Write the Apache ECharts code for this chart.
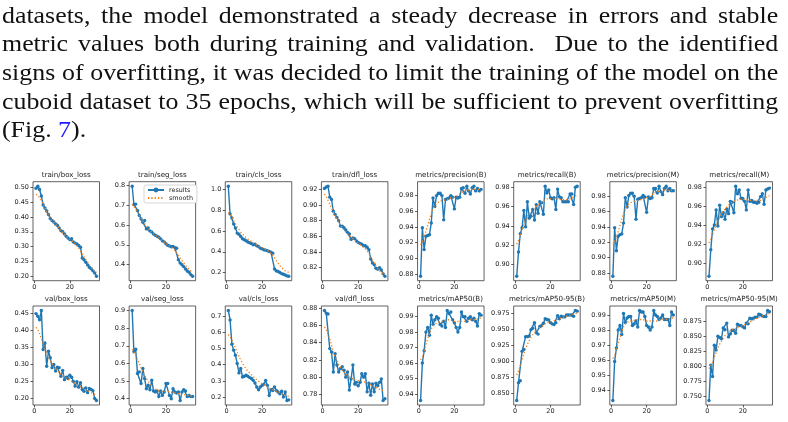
<!DOCTYPE html>
<html>
<head>
<meta charset="utf-8">
<script src="https://cdn.jsdelivr.net/npm/echarts@6/dist/echarts.min.js"></script>
<style>
html, body { margin: 0; padding: 0; background: #fff; }
#main { position: absolute; left: 0; top: 0; width: 788px; height: 422px; }
#text { position: absolute; left: 0; top: 0; width: 788px; height: 150px; }
.ln { position: absolute; left: 2px; width: 675px; font-family: "Liberation Serif", serif; font-size: 22.5px; line-height: 28.7px; color: #111; text-align: justify; text-align-last: justify; transform: scaleX(1.15); transform-origin: left top; }
.ln.last { text-align-last: left; }
.ref { color: #1a1aff; }
</style>
</head>
<body>
<div id="main"></div>
<div id="text">
  <div class="ln" style="top:1.5px">datasets, the model demonstrated a steady decrease in errors and stable</div>
  <div class="ln" style="top:30.2px">metric values both during training and validation.&nbsp; Due to the identified</div>
  <div class="ln" style="top:58.9px">signs of overfitting, it was decided to limit the training of the model on the</div>
  <div class="ln" style="top:87.6px">cuboid dataset to 35 epochs, which will be sufficient to prevent overfitting</div>
  <div class="ln last" style="top:116.3px">(Fig. <span class="ref">7</span>).</div>
</div>
<script>
// эпохи обучения
const epochs = [1,2,3,4,5,6,7,8,9,10,11,12,13,14,15,16,17,18,19,20,21,22,23,24,25,26,27,28,29,30,31,32,33,34,35];

// train losses
const trainBox = [0.496,0.503,0.492,0.470,0.440,0.430,0.420,0.408,0.395,0.388,0.383,0.376,0.372,0.363,0.354,0.350,0.343,0.335,0.329,0.324,0.327,0.316,0.312,0.309,0.304,0.298,0.262,0.256,0.248,0.239,0.231,0.226,0.219,0.212,0.201];
const trainBoxSmooth = [0.476,0.472,0.465,0.455,0.443,0.431,0.419,0.408,0.398,0.389,0.382,0.375,0.368,0.361,0.354,0.348,0.342,0.336,0.330,0.325,0.320,0.315,0.310,0.303,0.295,0.286,0.276,0.266,0.257,0.248,0.239,0.231,0.224,0.218,0.214];
const trainSeg = [0.795,0.703,0.705,0.673,0.648,0.630,0.614,0.622,0.580,0.585,0.570,0.565,0.555,0.548,0.543,0.538,0.530,0.520,0.515,0.505,0.498,0.494,0.490,0.492,0.486,0.483,0.425,0.408,0.400,0.390,0.378,0.368,0.362,0.350,0.342];
const trainSegSmooth = [0.705,0.695,0.680,0.665,0.650,0.635,0.621,0.607,0.595,0.584,0.574,0.565,0.557,0.549,0.542,0.535,0.528,0.521,0.514,0.507,0.500,0.494,0.488,0.481,0.472,0.461,0.448,0.434,0.421,0.409,0.397,0.386,0.376,0.369,0.364];
const trainCls = [1.032,0.765,0.726,0.668,0.630,0.580,0.570,0.548,0.526,0.516,0.506,0.494,0.487,0.480,0.468,0.474,0.458,0.452,0.435,0.429,0.420,0.416,0.410,0.403,0.397,0.387,0.235,0.216,0.210,0.200,0.190,0.184,0.177,0.168,0.165];
const trainClsSmooth = [0.780,0.760,0.730,0.700,0.670,0.640,0.615,0.590,0.570,0.553,0.537,0.522,0.509,0.497,0.486,0.476,0.466,0.457,0.448,0.440,0.432,0.424,0.415,0.403,0.387,0.366,0.342,0.316,0.291,0.268,0.248,0.231,0.217,0.207,0.201];
const trainDfl = [0.921,0.923,0.924,0.910,0.907,0.892,0.888,0.884,0.880,0.873,0.873,0.871,0.868,0.865,0.863,0.856,0.858,0.857,0.854,0.852,0.851,0.850,0.848,0.848,0.846,0.843,0.831,0.826,0.824,0.819,0.818,0.820,0.817,0.812,0.809];
const trainDflSmooth = [0.914,0.911,0.906,0.901,0.896,0.891,0.886,0.882,0.878,0.874,0.871,0.868,0.866,0.863,0.861,0.859,0.857,0.855,0.853,0.851,0.849,0.848,0.846,0.844,0.841,0.838,0.834,0.830,0.826,0.822,0.819,0.816,0.814,0.812,0.811];

// box / mask metrics
const precB = [0.877,0.939,0.911,0.928,0.929,0.930,0.945,0.977,0.966,0.980,0.983,0.983,0.980,0.949,0.975,0.976,0.977,0.980,0.978,0.963,0.978,0.977,0.978,0.989,0.990,0.983,0.992,0.986,0.982,0.990,0.992,0.986,0.989,0.986,0.988];
const precBSmooth = [0.917,0.921,0.927,0.934,0.942,0.950,0.957,0.963,0.967,0.970,0.972,0.973,0.974,0.974,0.974,0.975,0.976,0.977,0.977,0.978,0.979,0.980,0.982,0.984,0.985,0.986,0.987,0.987,0.988,0.988,0.988,0.988,0.988,0.988,0.988];
const recB = [0.888,0.913,0.932,0.938,0.956,0.939,0.965,0.948,0.950,0.957,0.946,0.962,0.953,0.965,0.964,0.952,0.981,0.974,0.977,0.969,0.968,0.969,0.957,0.978,0.970,0.969,0.965,0.965,0.965,0.965,0.973,0.973,0.962,0.980,0.981];
const recBSmooth = [0.921,0.925,0.930,0.936,0.941,0.946,0.950,0.953,0.955,0.957,0.958,0.960,0.961,0.963,0.964,0.966,0.967,0.968,0.968,0.968,0.968,0.968,0.968,0.968,0.968,0.967,0.967,0.967,0.967,0.967,0.968,0.969,0.970,0.971,0.972];
const precM = [0.876,0.939,0.909,0.928,0.930,0.931,0.945,0.978,0.966,0.981,0.984,0.984,0.980,0.950,0.976,0.977,0.978,0.981,0.979,0.959,0.979,0.977,0.978,0.990,0.990,0.984,0.993,0.986,0.982,0.990,0.993,0.987,0.990,0.987,0.987];
const precMSmooth = [0.917,0.921,0.927,0.934,0.942,0.950,0.957,0.963,0.967,0.970,0.972,0.973,0.974,0.974,0.974,0.975,0.976,0.976,0.977,0.978,0.979,0.980,0.982,0.984,0.985,0.986,0.987,0.987,0.988,0.988,0.988,0.988,0.988,0.988,0.988];
const recM = [0.886,0.914,0.936,0.940,0.956,0.939,0.961,0.949,0.953,0.946,0.957,0.952,0.965,0.964,0.953,0.981,0.973,0.977,0.968,0.968,0.965,0.956,0.977,0.965,0.966,0.964,0.964,0.963,0.964,0.970,0.973,0.962,0.977,0.978,0.979];
const recMSmooth = [0.921,0.925,0.930,0.935,0.940,0.944,0.948,0.951,0.954,0.957,0.959,0.961,0.963,0.964,0.965,0.966,0.966,0.967,0.967,0.967,0.967,0.967,0.967,0.966,0.966,0.966,0.966,0.966,0.966,0.966,0.967,0.968,0.969,0.970,0.971];

// val losses
const valBox = [0.448,0.440,0.430,0.457,0.343,0.362,0.294,0.338,0.319,0.290,0.299,0.280,0.291,0.290,0.265,0.282,0.255,0.262,0.258,0.268,0.262,0.250,0.236,0.249,0.233,0.246,0.226,0.221,0.231,0.217,0.229,0.226,0.223,0.200,0.194];
const valBoxSmooth = [0.408,0.401,0.390,0.375,0.360,0.345,0.332,0.320,0.310,0.301,0.293,0.287,0.281,0.276,0.271,0.267,0.263,0.259,0.256,0.253,0.250,0.247,0.244,0.241,0.238,0.235,0.232,0.229,0.226,0.223,0.220,0.217,0.214,0.211,0.209];
const valSeg = [0.900,0.666,0.680,0.543,0.552,0.486,0.571,0.514,0.457,0.476,0.451,0.505,0.444,0.438,0.444,0.413,0.444,0.419,0.438,0.486,0.486,0.419,0.400,0.457,0.438,0.432,0.438,0.390,0.438,0.451,0.444,0.413,0.419,0.413,0.413];
const valSegSmooth = [0.680,0.665,0.645,0.622,0.598,0.575,0.553,0.533,0.515,0.499,0.485,0.473,0.463,0.455,0.449,0.445,0.443,0.442,0.442,0.442,0.441,0.440,0.438,0.436,0.434,0.432,0.430,0.428,0.426,0.424,0.422,0.420,0.418,0.416,0.415];
const valCls = [0.733,0.675,0.526,0.489,0.458,0.407,0.349,0.376,0.324,0.328,0.334,0.328,0.320,0.314,0.303,0.287,0.262,0.245,0.262,0.272,0.279,0.303,0.272,0.210,0.245,0.241,0.262,0.241,0.231,0.221,0.237,0.200,0.231,0.179,0.183];
const valClsSmooth = [0.585,0.572,0.552,0.528,0.502,0.476,0.451,0.428,0.407,0.389,0.373,0.360,0.348,0.337,0.326,0.316,0.306,0.297,0.289,0.282,0.275,0.269,0.263,0.257,0.251,0.246,0.241,0.236,0.231,0.226,0.221,0.216,0.211,0.207,0.204];
const valDfl = [0.877,0.874,0.873,0.833,0.829,0.806,0.827,0.814,0.806,0.810,0.812,0.808,0.800,0.806,0.785,0.798,0.814,0.792,0.794,0.790,0.794,0.804,0.800,0.804,0.783,0.793,0.779,0.792,0.783,0.793,0.790,0.794,0.798,0.773,0.775];
const valDflSmooth = [0.858,0.855,0.850,0.844,0.837,0.830,0.824,0.819,0.815,0.811,0.808,0.806,0.804,0.802,0.800,0.799,0.798,0.797,0.796,0.796,0.796,0.795,0.795,0.794,0.793,0.792,0.791,0.790,0.789,0.788,0.787,0.786,0.785,0.785,0.784];

// mAP
const mapB = [0.9357,0.960,0.968,0.980,0.983,0.978,0.991,0.985,0.988,0.990,0.989,0.985,0.984,0.987,0.983,0.994,0.992,0.993,0.988,0.986,0.983,0.980,0.983,0.993,0.990,0.990,0.987,0.989,0.990,0.988,0.989,0.987,0.984,0.992,0.991];
const mapBSmooth = [0.962,0.964,0.968,0.972,0.976,0.979,0.982,0.984,0.985,0.986,0.986,0.987,0.987,0.987,0.988,0.988,0.988,0.988,0.988,0.987,0.987,0.987,0.987,0.987,0.987,0.987,0.987,0.988,0.988,0.988,0.988,0.988,0.988,0.989,0.989];
const map95B = [0.839,0.867,0.870,0.916,0.919,0.939,0.939,0.940,0.950,0.952,0.961,0.945,0.943,0.955,0.956,0.960,0.967,0.966,0.965,0.961,0.959,0.958,0.961,0.972,0.967,0.971,0.970,0.970,0.973,0.973,0.973,0.973,0.971,0.980,0.979];
const map95BSmooth = [0.879,0.885,0.893,0.903,0.912,0.920,0.927,0.933,0.938,0.942,0.945,0.948,0.951,0.953,0.955,0.957,0.959,0.961,0.962,0.962,0.963,0.964,0.965,0.966,0.967,0.968,0.969,0.970,0.971,0.972,0.973,0.974,0.975,0.975,0.976];
const mapM = [0.933,0.959,0.968,0.980,0.983,0.977,0.991,0.985,0.988,0.989,0.989,0.983,0.984,0.986,0.982,0.993,0.992,0.992,0.989,0.983,0.982,0.980,0.982,0.993,0.990,0.989,0.987,0.988,0.990,0.987,0.987,0.987,0.983,0.992,0.990];
const mapMSmooth = [0.961,0.963,0.967,0.971,0.975,0.979,0.982,0.984,0.985,0.986,0.986,0.986,0.987,0.987,0.987,0.987,0.987,0.987,0.987,0.986,0.986,0.986,0.986,0.986,0.986,0.986,0.987,0.987,0.987,0.987,0.987,0.987,0.988,0.988,0.988];
const map95M = [0.743,0.802,0.783,0.835,0.827,0.850,0.848,0.846,0.864,0.861,0.872,0.849,0.854,0.860,0.860,0.855,0.870,0.868,0.868,0.866,0.864,0.872,0.871,0.880,0.879,0.880,0.882,0.882,0.887,0.886,0.884,0.883,0.883,0.893,0.891];
const map95MSmooth = [0.796,0.800,0.807,0.815,0.823,0.830,0.837,0.842,0.847,0.851,0.854,0.857,0.859,0.861,0.862,0.863,0.864,0.866,0.867,0.868,0.869,0.871,0.872,0.874,0.876,0.877,0.879,0.880,0.882,0.883,0.884,0.885,0.886,0.887,0.888];

// подписи делений
const xTicks = [0, 20];
const ticksTrainBox = [0.20,0.25,0.30,0.35,0.40,0.45,0.50];
const ticksTrainSeg = [0.4,0.5,0.6,0.7,0.8];
const ticksTrainCls = [0.2,0.4,0.6,0.8,1.0];
const ticksTrainDfl = [0.82,0.84,0.86,0.88,0.90,0.92];
const ticksPrec = [0.88,0.90,0.92,0.94,0.96,0.98];
const ticksRecall = [0.90,0.92,0.94,0.96,0.98];
const ticksValBox = [0.20,0.25,0.30,0.35,0.40,0.45];
const ticksValSeg = [0.4,0.5,0.6,0.7,0.8,0.9];
const ticksValCls = [0.2,0.3,0.4,0.5,0.6,0.7];
const ticksValDfl = [0.78,0.80,0.82,0.84,0.86,0.88];
const ticksMap50 = [0.94,0.95,0.96,0.97,0.98,0.99];
const ticksMap95B = [0.850,0.875,0.900,0.925,0.950,0.975];
const ticksMap95M = [0.750,0.775,0.800,0.825,0.850,0.875];

const panels = [
    {title: 'train/box_loss', y: trainBox, s: trainBoxSmooth, ticks: ticksTrainBox, dec: 2},
    {title: 'train/seg_loss', y: trainSeg, s: trainSegSmooth, ticks: ticksTrainSeg, dec: 1},
    {title: 'train/cls_loss', y: trainCls, s: trainClsSmooth, ticks: ticksTrainCls, dec: 1},
    {title: 'train/dfl_loss', y: trainDfl, s: trainDflSmooth, ticks: ticksTrainDfl, dec: 2},
    {title: 'metrics/precision(B)', y: precB, s: precBSmooth, ticks: ticksPrec, dec: 2},
    {title: 'metrics/recall(B)', y: recB, s: recBSmooth, ticks: ticksRecall, dec: 2},
    {title: 'metrics/precision(M)', y: precM, s: precMSmooth, ticks: ticksPrec, dec: 2},
    {title: 'metrics/recall(M)', y: recM, s: recMSmooth, ticks: ticksRecall, dec: 2},
    {title: 'val/box_loss', y: valBox, s: valBoxSmooth, ticks: ticksValBox, dec: 2},
    {title: 'val/seg_loss', y: valSeg, s: valSegSmooth, ticks: ticksValSeg, dec: 1},
    {title: 'val/cls_loss', y: valCls, s: valClsSmooth, ticks: ticksValCls, dec: 1},
    {title: 'val/dfl_loss', y: valDfl, s: valDflSmooth, ticks: ticksValDfl, dec: 2},
    {title: 'metrics/mAP50(B)', y: mapB, s: mapBSmooth, ticks: ticksMap50, dec: 2},
    {title: 'metrics/mAP50-95(B)', y: map95B, s: map95BSmooth, ticks: ticksMap95B, dec: 3},
    {title: 'metrics/mAP50(M)', y: mapM, s: mapMSmooth, ticks: ticksMap50, dec: 2},
    {title: 'metrics/mAP50-95(M)', y: map95M, s: map95MSmooth, ticks: ticksMap95M, dec: 3}
];

const blue = '#1f77b4';
const orange = '#ff7f0e';
const ink = '#222';
const font = 'DejaVu Sans';

// 5% поля как в matplotlib
const padMin = v => v.min - 0.05 * (v.max - v.min);
const padMax = v => v.max + 0.05 * (v.max - v.min);
const pts = vals => epochs.map((e, k) => [e, vals[k]]);

let option = {
    animation: false,
    title: [],
    grid: [],
    xAxis: [],
    yAxis: [],
    series: [],
    legend: {
        left: 144,
        top: 185,
        orient: 'vertical',
        data: ['results', {name: 'smooth', itemStyle: {opacity: 0}}],
        itemWidth: 16,
        itemHeight: 6,
        itemGap: 2,
        padding: [2, 4, 2, 3],
        backgroundColor: '#fff',
        borderColor: '#ccc',
        borderWidth: 0.8,
        borderRadius: 2,
        selectedMode: false,
        textStyle: {fontSize: 6.4, fontFamily: font, color: ink}
    }
};

panels.forEach((p, i) => {
    const col = i % 8;
    const row = Math.floor(i / 8);
    const left = 33 + col * 96.14;
    const top = row ? 306 : 181.7;
    const w = 66.5, h = 99;

    option.grid.push({
        left: left, top: top, width: w, height: h,
        show: true, borderColor: '#3a3a3a', borderWidth: 0.8,
        containLabel: false, outerBoundsMode: 'none'
    });
    option.title.push({
        text: p.title,
        left: left + w / 2,
        top: top - 10,
        textAlign: 'center',
        padding: 0,
        textStyle: {fontFamily: font, fontSize: 7.1, fontWeight: 'normal', color: ink}
    });
    option.xAxis.push({
        gridIndex: i, type: 'value',
        min: padMin, max: padMax,
        axisLine: {show: false, onZero: false},
        splitLine: {show: false},
        axisTick: {show: true, length: 2.5, customValues: xTicks, lineStyle: {color: '#333', width: 0.8}},
        axisLabel: {customValues: xTicks, fontSize: 6.5, fontFamily: font, color: ink, margin: 3}
    });
    option.yAxis.push({
        gridIndex: i, type: 'value',
        min: padMin, max: padMax,
        axisLine: {show: false, onZero: false},
        splitLine: {show: false},
        axisTick: {show: true, length: 2.5, customValues: p.ticks, lineStyle: {color: '#333', width: 0.8}},
        axisLabel: {
            customValues: p.ticks, fontSize: 6.5, fontFamily: font, color: ink, margin: 4,
            formatter: v => v.toFixed(p.dec)
        }
    });
    option.series.push({
        name: 'results', type: 'line',
        xAxisIndex: i, yAxisIndex: i,
        data: pts(p.y),
        symbol: 'circle', symbolSize: 3.4, showSymbol: true,
        lineStyle: {color: blue, width: 1.4},
        itemStyle: {color: blue},
        emphasis: {disabled: true},
        z: 2
    });
    option.series.push({
        name: 'smooth', type: 'line',
        xAxisIndex: i, yAxisIndex: i,
        data: pts(p.s),
        symbol: 'none',
        lineStyle: {color: orange, width: 1.3, type: [1.3, 2]},
        itemStyle: {color: orange},
        emphasis: {disabled: true},
        z: 3
    });
});

let chart = echarts.init(document.getElementById('main'));
chart.setOption(option);
</script>
</body>
</html>
